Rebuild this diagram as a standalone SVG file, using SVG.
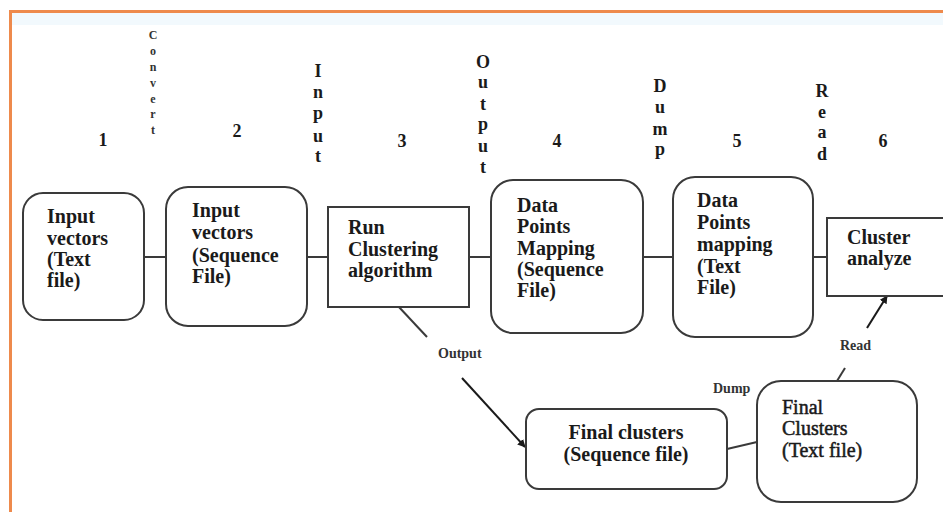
<svg xmlns="http://www.w3.org/2000/svg" width="943" height="517" viewBox="0 0 943 517">
<style>
.n{fill:#fff;stroke:#3a3a3a;stroke-width:2}
.t{font-family:"Liberation Serif","Times New Roman",serif;font-weight:bold;font-size:20px;fill:#1a1a1a}
.tr{font-family:"Liberation Serif","Times New Roman",serif;font-weight:normal;font-size:20px;fill:#1a1a1a;stroke:#1a1a1a;stroke-width:0.5}
.num{font-family:"Liberation Serif","Times New Roman",serif;font-weight:bold;font-size:18px;fill:#1a1a1a;text-anchor:middle}
.v{font-family:"Liberation Serif","Times New Roman",serif;font-weight:bold;font-size:18px;fill:#1a1a1a;text-anchor:middle}
.vs{font-family:"Liberation Serif","Times New Roman",serif;font-weight:bold;font-size:12px;fill:#333;text-anchor:middle}
.lb{font-family:"Liberation Serif","Times New Roman",serif;font-weight:bold;font-size:14px;fill:#333}
.c{stroke:#3a3a3a;stroke-width:2;fill:none}
.a{stroke:#1a1a1a;stroke-width:2;fill:none}
</style>
<defs>
<marker id="ah" viewBox="0 0 10 10" refX="9" refY="5" markerWidth="8" markerHeight="8" orient="auto" markerUnits="userSpaceOnUse">
<path d="M0,0 L10,5 L0,10 Z" fill="#1a1a1a"/>
</marker>
</defs>
<rect x="0" y="0" width="943" height="517" fill="#fff"/>
<rect x="12" y="13" width="931" height="12" fill="#f2f9fd"/>
<line x1="10" y1="11.5" x2="943" y2="11.5" stroke="#ee8a4c" stroke-width="3"/>
<line x1="10.5" y1="10" x2="10.5" y2="512" stroke="#ee8a4c" stroke-width="3"/>

<g id="labels">
<text class="num" x="103" y="146">1</text>
<text class="num" x="237" y="137">2</text>
<text class="num" x="402" y="147">3</text>
<text class="num" x="557" y="147">4</text>
<text class="num" x="737" y="147">5</text>
<text class="num" x="883" y="147">6</text>
<g class="vs">
<text x="153" y="39">C</text><text x="153" y="55">o</text><text x="153" y="71">n</text><text x="153" y="87">v</text><text x="153" y="103">e</text><text x="153" y="118">r</text><text x="153" y="134">t</text>
</g>
<g class="v">
<text x="318" y="77">I</text><text x="318" y="98">n</text><text x="318" y="119">p</text><text x="318" y="142">u</text><text x="318" y="162">t</text>
<text x="483" y="68">O</text><text x="483" y="88">u</text><text x="483" y="110">t</text><text x="483" y="130">p</text><text x="483" y="152">u</text><text x="483" y="173">t</text>
<text x="660" y="92">D</text><text x="660" y="113">u</text><text x="660" y="135">m</text><text x="660" y="155">p</text>
<text x="822" y="97">R</text><text x="822" y="118">e</text><text x="822" y="138">a</text><text x="822" y="160">d</text>
</g>
<text class="lb" x="438" y="358">Output</text>
<text class="lb" x="713" y="393">Dump</text>
<text class="lb" x="840" y="350">Read</text>
</g>

<g id="connectors">
<line class="c" x1="144" y1="257" x2="166" y2="257"/>
<line class="c" x1="307" y1="257" x2="328" y2="257"/>
<line class="c" x1="469" y1="257" x2="491" y2="257"/>
<line class="c" x1="643" y1="257" x2="673" y2="257"/>
<line class="c" x1="813" y1="257" x2="827" y2="257"/>
<line class="c" x1="398" y1="306" x2="427" y2="337"/>
<line class="a" x1="462" y1="378" x2="525" y2="447" marker-end="url(#ah)"/>
<line class="c" x1="727" y1="449" x2="757" y2="442"/>
<line class="c" x1="837" y1="381" x2="845" y2="368"/>
<line class="a" x1="867" y1="328" x2="887" y2="296" marker-end="url(#ah)"/>
</g>

<g id="node1">
<rect class="n" x="23" y="193" width="121" height="127" rx="20"/>
<text class="t" x="47" y="223">Input</text>
<text class="t" x="47" y="245">vectors</text>
<text class="t" x="47" y="266">(Text</text>
<text class="t" x="47" y="287">file)</text>
</g>
<g id="node2">
<rect class="n" x="166" y="187" width="141" height="139" rx="22"/>
<text class="t" x="192" y="217">Input</text>
<text class="t" x="192" y="239">vectors</text>
<text class="t" x="192" y="262">(Sequence</text>
<text class="t" x="192" y="283">File)</text>
</g>
<g id="node3">
<rect class="n" x="328" y="207" width="141" height="100"/>
<text class="t" x="348" y="234">Run</text>
<text class="t" x="348" y="256">Clustering</text>
<text class="t" x="348" y="277">algorithm</text>
</g>
<g id="node4">
<rect class="n" x="491" y="180" width="152" height="153" rx="22"/>
<text class="t" x="517" y="212">Data</text>
<text class="t" x="517" y="233">Points</text>
<text class="t" x="517" y="255">Mapping</text>
<text class="t" x="517" y="276">(Sequence</text>
<text class="t" x="517" y="297">File)</text>
</g>
<g id="node5">
<rect class="n" x="673" y="177" width="140" height="160" rx="22"/>
<text class="t" x="697" y="207">Data</text>
<text class="t" x="697" y="229">Points</text>
<text class="t" x="697" y="251">mapping</text>
<text class="t" x="697" y="273">(Text</text>
<text class="t" x="697" y="294">File)</text>
</g>
<g id="node6">
<rect class="n" x="827" y="218" width="130" height="78"/>
<text class="t" x="847" y="244">Cluster</text>
<text class="t" x="847" y="265">analyze</text>
</g>
<g id="node7">
<rect class="n" x="526" y="409" width="201" height="80" rx="13"/>
<text class="t" x="626" y="439" text-anchor="middle">Final clusters</text>
<text class="t" x="626" y="461" text-anchor="middle">(Sequence file)</text>
</g>
<g id="node8">
<rect class="n" x="757" y="381" width="160" height="121" rx="24"/>
<text class="tr" x="782" y="414">Final</text>
<text class="tr" x="782" y="435">Clusters</text>
<text class="tr" x="782" y="457">(Text file)</text>
</g>
</svg>
